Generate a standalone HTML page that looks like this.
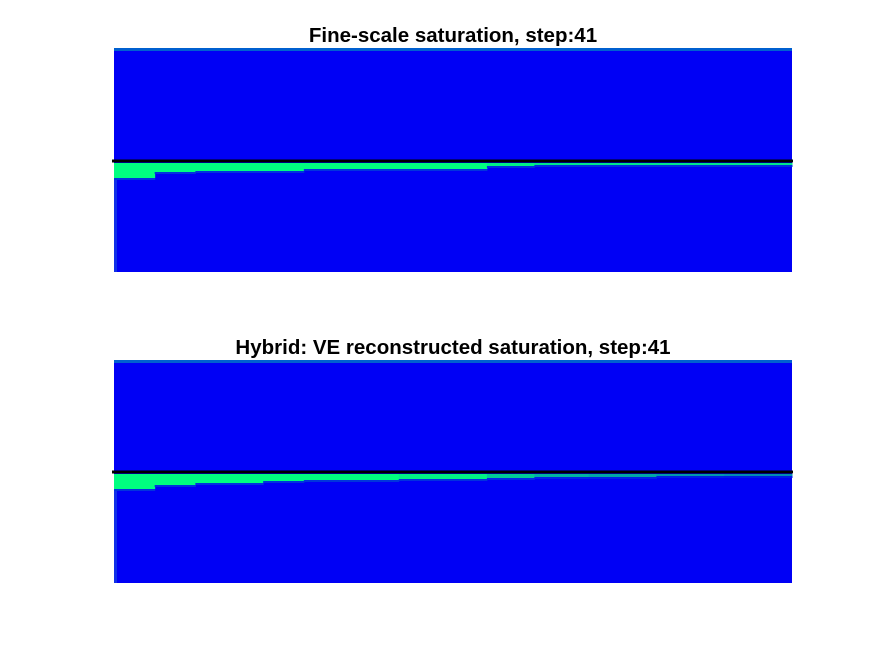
<!DOCTYPE html>
<html><head><meta charset="utf-8"><style>
html,body{margin:0;padding:0;background:#fff;}
svg{display:block;}
text{font-family:"Liberation Sans",Arial,sans-serif;font-weight:bold;font-size:20.5px;fill:#000;}
</style></head><body>
<svg id="c" width="875" height="656" viewBox="0 0 875 656"></svg>
<script>
// Column boundaries along the aquifer (fraction of panel width)
const colEdges = [0, 0.06, 0.12, 0.22, 0.28, 0.42, 0.55, 0.62, 0.70, 0.80, 0.90, 1.0];
// Plume thickness (pixels below caprock) per column, fine-scale
const fineThick = [15, 9, 8, 8, 6, 6, 3, 2, 2, 2, 2];
// Plume saturation intensity (0..1) per column, fine-scale
const fineSat = [1, 1, 1, 1, 1, 1, 0.95, 0.9, 0.9, 0.9, 0.9];
// Plume thickness per column, hybrid VE
const hybThick = [15, 11, 9, 7, 6, 5, 4, 3, 3, 2, 2];
const hybSat = [1, 1, 1, 1, 1, 0.95, 0.8, 0.7, 0.65, 0.6, 0.55];
const titles = ["Fine-scale saturation, step:41", "Hybrid: VE reconstructed saturation, step:41"];

const svg = document.getElementById('c');
const NS = 'http://www.w3.org/2000/svg';
function mk(tag, attrs, parent){const e=document.createElementNS(NS,tag);for(const k in attrs)e.setAttribute(k,attrs[k]);(parent||svg).appendChild(e);return e;}
function mix(t){ // blue -> green
  const r=0, g=Math.round(255*t), b=Math.round(245*(1-t)+128*t);
  return `rgb(${r},${g},${b})`;
}
const panels=[{y0:48,y1:272,line:161,th:fineThick,sat:fineSat,title:titles[0],ty:42},
              {y0:360,y1:583,line:472,th:hybThick,sat:hybSat,title:titles[1],ty:354}];
const X0=114, X1=792;
const xs = f => X0 + f*(X1-X0);
panels.forEach((p,pi)=>{
  const g=mk('g',{});
  
  
  const bg=mk('rect',{x:X0,y:p.y0,width:X1-X0,height:p.y1-p.y0,fill:'#0000f5'},g);
  
  
  const top=mk('rect',{x:X0,y:p.y0,width:X1-X0,height:3,fill:'#0060d0'},g);
  
  
  const le=mk('rect',{x:X0,y:p.line+17,width:3,height:p.y1-p.line-17,fill:'#1030e8'},g);
  
  
  for(let i=0;i<p.th.length;i++){
    const x=xs(colEdges[i]), w=xs(colEdges[i+1])-x;
    const r=mk('rect',{x:x,y:p.line+2,width:w+0.5,height:p.th[i],fill:mix(p.sat[i])},g);
    
    
    const f=mk('rect',{x:x,y:p.line+2+p.th[i],width:w+0.5,height:2,fill:mix(p.sat[i]*0.2)},g);
    
    
  }
  const ln=mk('line',{x1:112,x2:793,y1:p.line,y2:p.line,stroke:'#000','stroke-width':3},g);
  
  
  const t=mk('text',{x:453,y:p.ty,'text-anchor':'middle'},g);
  t.textContent=p.title;
  
  
});
</script>
</body></html>
